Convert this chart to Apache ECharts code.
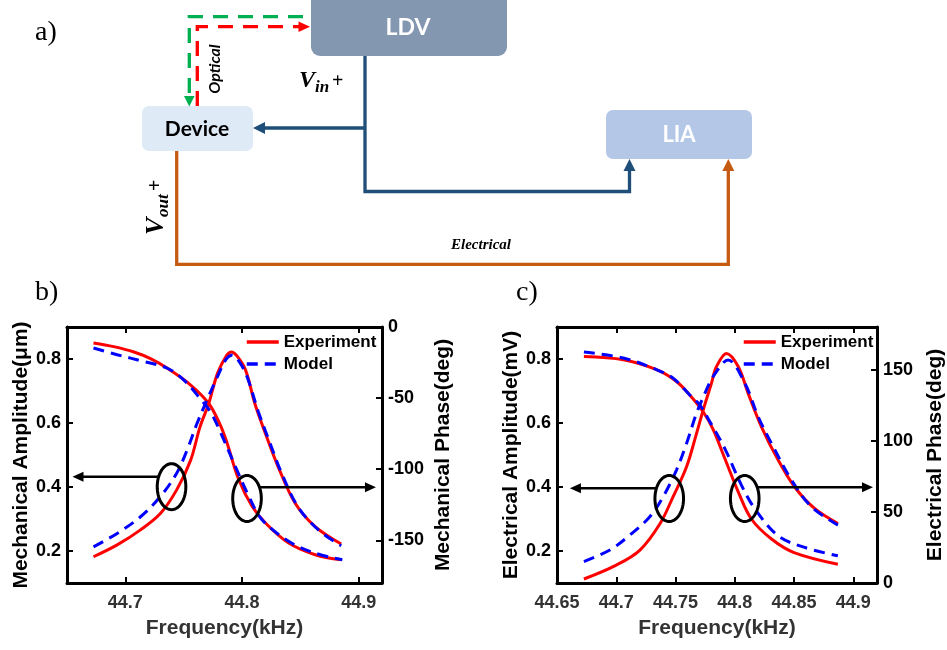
<!DOCTYPE html>
<html>
<head>
<meta charset="utf-8">
<script src="https://cdn.jsdelivr.net/npm/echarts@6/dist/echarts.min.js"></script>
<style>html,body{margin:0;padding:0;background:#fff}#c{width:947px;height:650px}</style>
</head>
<body>
<div id="c"></div>
<script>
// ---------------- data ----------------
const seriesNames = ['Experiment', 'Model'];
const bXTicks = [44.7, 44.8, 44.9];
const cXTicks = [44.65, 44.7, 44.75, 44.8, 44.85, 44.9];
const ampTicks = [0.2, 0.4, 0.6, 0.8];
const bPhaseTicks = [-150, -100, -50, 0];
const cPhaseTicks = [0, 50, 100, 150];

// panel b: mechanical amplitude (um) and phase (deg) vs frequency (kHz)
const bAmpExp = [[44.6727,0.182],[44.693,0.219],[44.713,0.266],[44.730,0.317],[44.744,0.391],[44.756,0.484],[44.764,0.588],[44.7715,0.661],[44.779,0.755],[44.787,0.812],[44.791,0.822],[44.796,0.808],[44.803,0.766],[44.811,0.661],[44.820,0.568],[44.831,0.463],[44.8456,0.349],[44.8627,0.276],[44.885,0.222]];
const bAmpMod = [[44.6727,0.213],[44.693,0.255],[44.713,0.307],[44.730,0.370],[44.744,0.443],[44.753,0.516],[44.7615,0.599],[44.770,0.672],[44.779,0.745],[44.786,0.797],[44.7915,0.812],[44.797,0.795],[44.804,0.748],[44.814,0.635],[44.823,0.547],[44.834,0.443],[44.848,0.338],[44.8655,0.266],[44.885,0.216]];
const bPhExp = [[44.6727,-11.2],[44.69,-13.8],[44.7074,-17.6],[44.722,-22.4],[44.736,-29],[44.756,-40.8],[44.7715,-53.8],[44.7815,-69.1],[44.787,-81],[44.797,-106.9],[44.8085,-125.9],[44.82,-137.7],[44.84,-151.9],[44.8627,-160.1],[44.885,-163.7]];
const bPhMod = [[44.6727,-14.8],[44.693,-19.5],[44.716,-24.3],[44.736,-29],[44.750,-37.2],[44.764,-50.2],[44.773,-59.7],[44.7815,-73.9],[44.794,-97.5],[44.8057,-118.8],[44.817,-135.3],[44.84,-150.7],[44.8627,-159],[44.886,-163.7]];

// panel c: electrical amplitude (mV) and phase (deg) vs frequency (kHz)
const cAmpExp = [[44.6727,0.1125],[44.7,0.156],[44.72,0.203],[44.737,0.286],[44.748,0.370],[44.7593,0.463],[44.7677,0.567],[44.7733,0.64],[44.7803,0.724],[44.7845,0.776],[44.793,0.8175],[44.803,0.776],[44.8113,0.6925],[44.8225,0.588],[44.8366,0.484],[44.8505,0.40],[44.8673,0.333],[44.887,0.286]];
const cAmpMod = [[44.6727,0.167],[44.6946,0.203],[44.7115,0.25],[44.7283,0.307],[44.7396,0.37],[44.7508,0.453],[44.7593,0.536],[44.7677,0.63],[44.776,0.703],[44.7817,0.745],[44.7944,0.797],[44.8085,0.724],[44.8197,0.62],[44.831,0.536],[44.8478,0.422],[44.8647,0.338],[44.887,0.281]];
const cPhExp = [[44.6727,159.3],[44.706,157],[44.734,150],[44.7508,141.7],[44.762,132.2],[44.7733,120.4],[44.7817,108],[44.7916,87.5],[44.803,63.9],[44.814,45],[44.831,30.9],[44.85,21.4],[44.887,13.2]];
const cPhMod = [[44.6727,162.4],[44.706,158.2],[44.734,150],[44.748,144],[44.762,132.2],[44.7705,125.2],[44.779,113.4],[44.7916,94.5],[44.8057,68.6],[44.817,52.1],[44.8366,33.2],[44.859,25],[44.887,19.1]];

// annotation anchors (data space): ellipse centre [f, amp], arrow end freq, arrow amp level
const bAnnot = [{c:[44.7396,0.401], arrowY:0.432, arrowTo:44.6547, dir:-1},{c:[44.8043,0.364], arrowY:0.399, arrowTo:44.9148, dir:1}];
const cAnnot = [{c:[44.7447,0.364], arrowY:0.396, arrowTo:44.6609, dir:-1},{c:[44.8084,0.364], arrowY:0.399, arrowTo:44.9166, dir:1}];

// ---------------- chart ----------------
const FF = '"Liberation Sans", Arial, sans-serif';
const chart = echarts.init(document.getElementById('c'), null, {renderer:'canvas'});

function xAxisCfg(grid, ticks, pos, labels) {
  return {
    type:'value', gridIndex:grid, min:44.65, max:44.92, position:pos,
    axisLine:{show:true, onZero:false, lineStyle:{color:'#000', width:3}},
    axisTick:{show:true, inside:true, length:6, customValues:ticks, lineStyle:{color:'#000', width:2}},
    axisLabel:{show:labels, customValues:ticks, formatter:v=>String(v), margin:11, fontSize:18, fontWeight:'bold', color:'#333', fontFamily:FF},
    splitLine:{show:false},
    name: labels ? 'Frequency(kHz)' : '', nameLocation:'middle', nameGap:35,
    nameTextStyle:{fontSize:21, fontWeight:'bold', color:'#333', fontFamily:FF}
  };
}
function yAxisCfg(grid, pos, min, max, ticks, name, gap) {
  return {
    type:'value', gridIndex:grid, min:min, max:max, position:pos,
    axisLine:{show:true, onZero:false, lineStyle:{color:'#000', width:3}},
    axisTick:{show:true, inside:true, length:6, customValues:ticks, lineStyle:{color:'#000', width:2}},
    axisLabel:{customValues:ticks, formatter:v=>String(v), margin:6, fontSize:18, fontWeight:'bold', color:'#000', fontFamily:FF},
    splitLine:{show:false},
    name:name, nameLocation:'middle', nameGap:gap, nameRotate:90,
    nameTextStyle:{fontSize:21, fontWeight:'bold', color:'#000', fontFamily:FF}
  };
}
function line(name, data, xi, yi) {
  const dashed = name === 'Model';
  const col = dashed ? '#0000FF' : '#FF0000';
  return {
    type:'line', name:name, data:data, xAxisIndex:xi, yAxisIndex:yi,
    smooth:0.35, symbol:'none', z: dashed ? 4 : 3,
    lineStyle:{color:col, width:3, type: dashed ? [11,7] : 'solid'},
    itemStyle:{color:col}
  };
}
const legendCfg = (left) => ({
  data:seriesNames, orient:'vertical', left:left, top:333, itemWidth:32, itemHeight:14, itemGap:4,
  padding:0, itemStyle:{opacity:0, borderWidth:0}, lineStyle:{width:3.5},
  textStyle:{fontSize:17, fontWeight:'bold', color:'#000', fontFamily:FF, lineHeight:18}
});

chart.setOption({
  animation:false,
  backgroundColor:'#fff',
  grid:[
    {left:67, top:327, width:315, height:256},
    {left:557, top:327, width:320, height:256}
  ],
  xAxis:[
    xAxisCfg(0, bXTicks, 'bottom', true),
    xAxisCfg(0, bXTicks, 'top', false),
    xAxisCfg(1, cXTicks, 'bottom', true),
    xAxisCfg(1, cXTicks, 'top', false)
  ],
  yAxis:[
    yAxisCfg(0, 'left', 0.1, 0.9, ampTicks, 'Mechanical Amplitude(\u03bcm)', 35),
    yAxisCfg(0, 'right', -180, 0, bPhaseTicks, 'Mechanical Phase(deg)', 51),
    yAxisCfg(1, 'left', 0.1, 0.9, ampTicks, 'Electrical Amplitude(mV)', 35),
    yAxisCfg(1, 'right', 0, 180, cPhaseTicks, 'Electrical Phase(deg)', 48)
  ],
  legend:[legendCfg(245), legendCfg(742)],
  series:[
    line('Experiment', bAmpExp, 0, 0),
    line('Experiment', bPhExp, 0, 1),
    line('Model', bAmpMod, 0, 0),
    line('Model', bPhMod, 0, 1),
    line('Experiment', cAmpExp, 2, 2),
    line('Experiment', cPhExp, 2, 3),
    line('Model', cAmpMod, 2, 2),
    line('Model', cPhMod, 2, 3)
  ]
});

// ---------------- graphics: diagram, panel labels, annotations ----------------
const G = [];
function txt(x, y, text, font, fill, align, valign, extra) {
  return Object.assign({type:'text', x:x, y:y, style:{text:text, font:font, fill:fill, align:align||'left', verticalAlign:valign||'middle', textAlign:align||'left', textVerticalAlign:valign||'middle'}, z:100}, extra||{});
}
function rrect(x, y, w, h, r, fill) {
  return {type:'rect', shape:{x:x, y:y, width:w, height:h, r:r}, style:{fill:fill}, z:50};
}
function pline(points, stroke, width, dash) {
  return {type:'polyline', shape:{points:points}, style:{stroke:stroke, lineWidth:width, fill:null, lineDash:dash||null}, z:60};
}
function tri(points, fill) {
  return {type:'polygon', shape:{points:points}, style:{fill:fill}, z:61};
}

// panel labels
G.push(txt(35, 33, 'a)', '28px "Liberation Serif", serif', '#000', 'left', 'middle'));
G.push(txt(35, 293, 'b)', '28px "Liberation Serif", serif', '#000', 'left', 'middle'));
G.push(txt(516, 293, 'c)', '28px "Liberation Serif", serif', '#000', 'left', 'middle'));

// boxes
G.push(rrect(311, -10, 196, 66, 9, '#8497B0'));
G.push(txt(408, 28, 'LDV', 'bold 23px Lato, "Open Sans", sans-serif', '#fff', 'center', 'middle'));
G.push(rrect(142, 106, 111, 45, 7, '#DEEBF7'));
G.push(txt(197, 129, 'Device', 'bold 21px Lato, "Open Sans", sans-serif', '#000', 'center', 'middle'));
G.push(rrect(606, 110, 146, 49, 7, '#B4C7E7'));
G.push(txt(679, 135, 'LIA', 'bold 22px Lato, "Open Sans", sans-serif', '#fff', 'center', 'middle'));

// blue (drive) lines
const BL = '#1F4E79';
G.push(pline([[365,56],[365,191.5],[629.5,191.5],[629.5,169]], BL, 3.3));
G.push(tri([[629.5,159],[623.5,171],[635.5,171]], BL));
G.push(pline([[365,128],[263,128]], BL, 3.3));
G.push(tri([[253,128],[265,122],[265,134]], BL));
// orange (output) lines
const OR = '#C55A11';
G.push(pline([[176.7,151],[176.7,264.3],[728.3,264.3],[728.3,169]], OR, 3.3));
G.push(tri([[728.3,159],[722.3,171],[734.3,171]], OR));
// optical dashed lines
G.push(pline([[303,16.7],[189.3,16.7],[189.3,96]], '#00B050', 3.3, [15,10]));
G.push(tri([[189.3,106.5],[184,96],[194.6,96]], '#00B050'));
G.push(pline([[197.3,106],[197.3,26.7],[299,26.7]], '#FF0000', 3.3, [15,10]));
G.push(tri([[310,26.7],[298.5,21.5],[298.5,32]], '#FF0000'));

// labels in diagram
G.push({type:'group', x:214.5, y:69, rotation:Math.PI/2, z:100, children:[
  txt(0, 0, 'Optical', 'italic bold 16px Lato, "Open Sans", sans-serif', '#000', 'center', 'middle')
]});
const SER = '"Liberation Serif", "DejaVu Serif", serif';
G.push(txt(299, 81, 'V', 'italic bold 24px ' + SER, '#000', 'left', 'middle'));
G.push(txt(315, 88, 'in', 'italic bold 17px ' + SER, '#000', 'left', 'middle'));
G.push(txt(332, 82, '+', 'bold 20px ' + SER, '#000', 'left', 'middle'));
G.push({type:'group', x:156, y:235, rotation:Math.PI/2, z:100, children:[
  txt(0, 0, 'V', 'italic bold 26px ' + SER, '#000', 'left', 'middle'),
  txt(18, 8, 'out', 'italic bold 17px ' + SER, '#000', 'left', 'middle'),
  txt(44, 0, '+', 'bold 20px ' + SER, '#000', 'left', 'middle')
]});
G.push(txt(451, 245, 'Electrical', 'italic bold 15px ' + SER, '#000', 'left', 'middle'));

// annotations on the plots (ellipses + arrows), positioned through the axes
function addAnnot(list, xi, yi) {
  list.forEach(a => {
    const c = chart.convertToPixel({xAxisIndex:xi, yAxisIndex:yi}, a.c);
    const rx = 14.3, ry = 23;
    const pts = [];
    for (let i = 0; i < 72; i++) {
      const t = i / 72 * Math.PI * 2;
      pts.push([c[0] + rx * Math.cos(t), c[1] + ry * Math.sin(t)]);
    }
    G.push({type:'polygon', shape:{points:pts}, style:{fill:null, stroke:'#000', lineWidth:3}, z:70});
    const end = chart.convertToPixel({xAxisIndex:xi, yAxisIndex:yi}, [a.arrowTo, a.arrowY]);
    const ex = end[0], ay = end[1];
    const sx = c[0] + a.dir * Math.sqrt(Math.max(0, 1 - Math.pow((ay - c[1]) / ry, 2))) * rx;
    G.push({type:'line', shape:{x1:sx, y1:ay, x2:ex - a.dir * 9, y2:ay}, style:{stroke:'#000', lineWidth:2.5}, z:70});
    G.push({type:'polygon', shape:{points:[[ex, ay],[ex - a.dir * 11, ay - 5],[ex - a.dir * 11, ay + 5]]}, style:{fill:'#000'}, z:71});
  });
}
addAnnot(bAnnot, 0, 0);
addAnnot(cAnnot, 2, 2);

chart.setOption({graphic:{elements:G}});
</script>
</body>
</html>
